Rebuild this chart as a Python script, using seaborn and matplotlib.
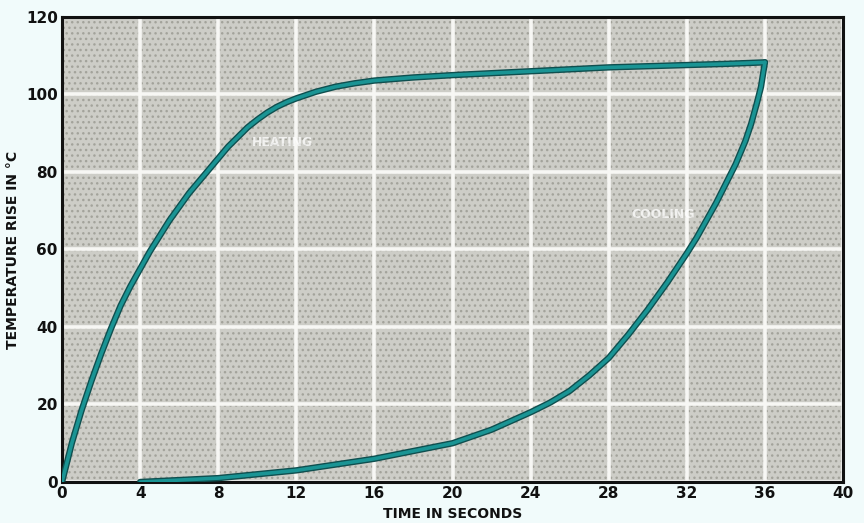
import numpy as np
import pandas as pd
import matplotlib.pyplot as plt
import matplotlib.patches as mpatches
import seaborn as sns

# heating curve (seconds, deg C rise)
heat_t = [0, 0.25, 0.5, 1, 1.5, 2, 2.5, 3, 3.5, 4, 4.5, 5, 5.5, 6, 6.5, 7, 7.5, 8, 8.5, 9, 9.5,
          10, 10.5, 11, 11.5, 12, 13, 14, 15, 16, 18, 20, 22, 24, 26, 28, 30, 32, 34, 36]
heat_y = [0, 5, 10, 18.5, 26, 33, 39.5, 45.5, 50.5, 55, 59.5, 63.5, 67.5, 71, 74.5, 77.5, 80.5, 83.5,
          86.5, 89, 91.5, 93.5, 95.3, 96.8, 98, 99, 100.7, 102, 102.9, 103.6, 104.4, 105, 105.5,
          106, 106.5, 107, 107.3, 107.6, 107.9, 108.3]

# cooling curve
cool_t = [4, 6, 8, 10, 12, 14, 16, 18, 20, 22, 24, 25, 26, 27, 28, 29, 30, 31, 32, 32.5, 33,
          33.5, 34, 34.5, 35, 35.3, 35.6, 35.8, 36]
cool_y = [0, 0.5, 1, 2, 3, 4.5, 6, 8, 10, 13.5, 18, 20.5, 23.5, 27.5, 32, 38, 44.5, 51.5, 59,
          63, 67.5, 72, 77, 82, 88, 92.5, 98, 102, 108.3]

x_ticks = [0, 4, 8, 12, 16, 20, 24, 28, 32, 36, 40]
y_ticks = [0, 20, 40, 60, 80, 100, 120]

sns.set_style("white")
plt.rcParams['font.family'] = ['DejaVu Sans']

fig = plt.figure(figsize=(8.64, 5.23), dpi=100)
fig.patch.set_facecolor("#f1fbfb")
ax = fig.add_axes([0.0718, 0.0784, 0.9039, 0.8891])
ax.set_facecolor("#cdcdc7")

# stipple texture
stip = mpatches.Rectangle((0, 0), 1, 1, transform=ax.transAxes, facecolor="none",
                          edgecolor="#a3a39b", hatch="...", linewidth=0, zorder=0.5)
ax.add_patch(stip)

ax.set_xlim(0, 40)
ax.set_ylim(0, 120)
ax.set_xticks(x_ticks)
ax.set_yticks(y_ticks)
ax.grid(True, color="#f7f7f4", linewidth=2.6, zorder=1)
ax.set_axisbelow(True)

heat = pd.DataFrame({"t": heat_t, "y": heat_y})
cool = pd.DataFrame({"t": cool_t, "y": cool_y})
for df in (heat, cool):
    sns.lineplot(data=df, x="t", y="y", ax=ax, color="#0f4f4f", linewidth=4.6,
                 sort=False, zorder=3, solid_capstyle="round", solid_joinstyle="round")
    sns.lineplot(data=df, x="t", y="y", ax=ax, color="#1a9494", linewidth=2.6,
                 sort=False, zorder=4, solid_capstyle="round", solid_joinstyle="round")

ax.text(11.3, 87.5, "HEATING", color="white", fontsize=9, fontweight="bold",
        ha="center", va="center", alpha=0.75, zorder=2)
ax.text(30.8, 69, "COOLING", color="white", fontsize=9, fontweight="bold",
        ha="center", va="center", alpha=0.75, zorder=2)

for s in ax.spines.values():
    s.set_color("#111111")
    s.set_linewidth(2.2)

ax.tick_params(axis="both", length=0, labelsize=11, pad=3, colors="#111111")
for lab in ax.get_xticklabels() + ax.get_yticklabels():
    lab.set_fontweight("bold")

ax.set_xlabel("TIME IN SECONDS", fontsize=10, fontweight="bold", color="#111111", labelpad=4.5)
ax.set_ylabel("TEMPERATURE RISE IN °C", fontsize=10, fontweight="bold", color="#111111", labelpad=4)

fig.savefig("out.png", dpi=100, facecolor=fig.get_facecolor())
